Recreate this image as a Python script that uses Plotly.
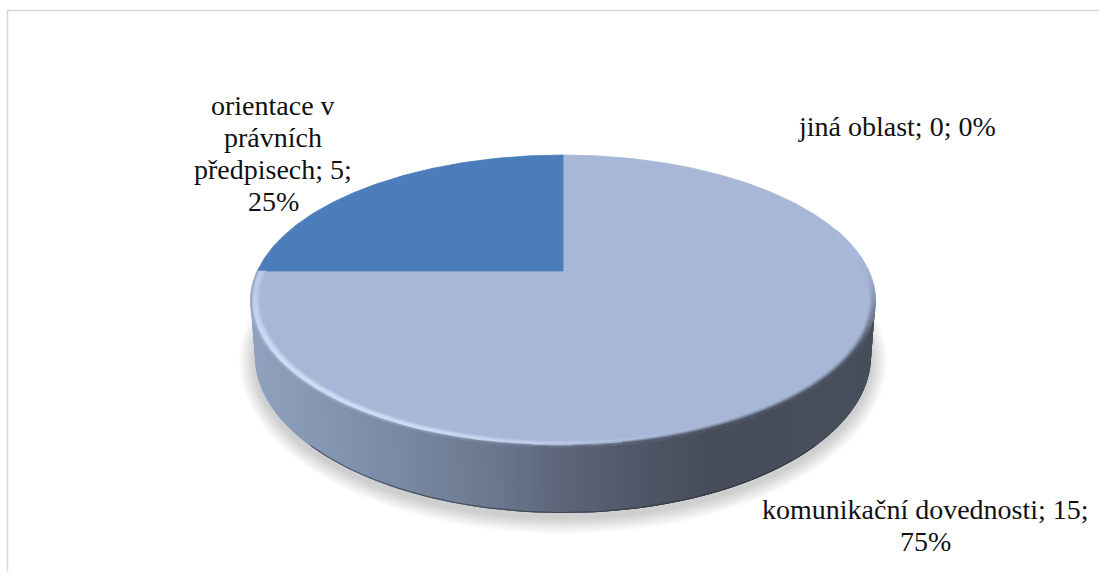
import numpy as np
import plotly.graph_objects as go

# Survey answers, in clockwise order from twelve o'clock
categories = ["komunikační dovednosti", "orientace v právních předpisech", "jiná oblast"]
values = [15, 5, 0]
slice_colors = ["#A8B7D7", "#4A7DBA", "#9BBB59"]

WIDTH, HEIGHT = 1099, 572
FONT = "Liberation Serif"
LINE_STEP = 32

# Perspective projection of the unit disc onto the page
CX, APEX_Y = 563.0, 271.0
SCALE_X, SCALE_Y, TILT = 305.6, 139.8, 0.2055
# Ellipses of the top rim and of the bottom edge, as seen on the page
TOP_CY, TOP_RX, TOP_RY = 301.0, 312.3, 146.0
BASE_CY, BASE_RX, BASE_RY = 356.0, 308.0, 157.0


def disc(theta_deg, r=1.0):
    t = np.radians(theta_deg)
    u, v = r * np.sin(t), r * np.cos(t)
    w = 1 + TILT * v
    return CX + SCALE_X * u / w, APEX_Y - SCALE_Y * v / w


def rim(phi_deg, cy, rx, ry):
    p = np.radians(phi_deg)
    return CX + rx * np.sin(p), cy - ry * np.cos(p)


def rgb(hex_color):
    return np.array([int(hex_color[i:i + 2], 16) for i in (1, 3, 5)], dtype=float)


def smooth(a, b, x):
    s = np.clip((x - a) / (b - a), 0, 1)
    return s * s * (3 - 2 * s)


SIDE_X = [255, 330, 420, 500, 563, 640, 710, 875]
SIDE_C = [rgb(c) for c in ("#8FA1BE", "#8495B0", "#76859F", "#6A768D", "#5C6578", "#4F5667", "#474D5B", "#474E5C")]


def side_color(x):
    return np.array([np.interp(x, SIDE_X, [c[i] for c in SIDE_C]) for i in range(3)])


def css(c, step=1):
    q = np.clip(np.round(np.asarray(c) / step) * step, 0, 255).astype(int)
    return f"rgb({q[0]},{q[1]},{q[2]})"


class PolygonGroups:
    """Collects small polygons by colour so each colour needs a single trace."""

    def __init__(self, width=0.5):
        self.groups = {}
        self.width = width

    def add(self, xs, ys, color):
        gx, gy = self.groups.setdefault(color, ([], []))
        gx.extend(list(xs) + [xs[0], None])
        gy.extend(list(ys) + [ys[0], None])

    def traces(self):
        return [
            go.Scatter(x=gx, y=gy, mode="lines", fill="toself", fillcolor=c,
                       line=dict(color=c, width=self.width), hoverinfo="skip", showlegend=False)
            for c, (gx, gy) in self.groups.items()
        ]


fig = go.Figure()

# Soft shadow under the disc, built up from expanding translucent ellipses
phi = np.linspace(0, 360, 241)
for grow in np.arange(16, 0, -1.0):
    sx, sy = rim(phi, BASE_CY + 5, BASE_RX + grow, BASE_RY + grow)
    fig.add_trace(go.Scatter(x=sx, y=sy, mode="lines", fill="toself", line=dict(width=0),
                             fillcolor="rgba(90,90,90,0.015)", hoverinfo="skip", showlegend=False))

# Outer wall: strips painted from left to right, each running under the next one
edges = np.linspace(270, 90, 181)
for a, b in zip(edges[:-1], edges[1:]):
    arc = np.linspace(a, max(b - 3, 90), 6)
    tx, ty = rim(arc, TOP_CY, TOP_RX, TOP_RY)
    bx, by = rim(arc[::-1], BASE_CY, BASE_RX, BASE_RY)
    color = css(side_color(rim((a + b) / 2, TOP_CY, TOP_RX, TOP_RY)[0]))
    fig.add_trace(go.Scatter(x=[*tx, *bx, tx[0]], y=[*ty, *by, ty[0]], mode="lines", fill="toself",
                             fillcolor=color, line=dict(width=0), hoverinfo="skip", showlegend=False))

# Darker line where the wall meets the ground
ex, ey = rim(np.linspace(125, 235, 111), BASE_CY - 0.5, BASE_RX, BASE_RY)
fig.add_trace(go.Scatter(x=ex, y=ey, mode="lines", line=dict(color="rgba(40,44,54,0.55)", width=1.2),
                         hoverinfo="skip", showlegend=False))

# Top face: one wedge per category, sized from its value
total = sum(values)
start = 0.0
for name, value, color in zip(categories, values, slice_colors):
    sweep = 360.0 * value / total
    if value > 0:
        theta = np.linspace(start, start + sweep, max(3, int(sweep * 2)))
        ax, ay = disc(theta)
        fig.add_trace(go.Scatter(x=[CX, *ax, CX], y=[APEX_Y, *ay, APEX_Y], mode="lines", fill="toself",
                                 fillcolor=color, line=dict(color=color, width=0.8),
                                 name=name, hoverinfo="skip", showlegend=False))
    start += sweep

# Rounded edge of the large slice: light on the lower left, falling into shade on the right
FACE = rgb(slice_colors[0])
GLOW = rgb("#D2E0F8")
BAND = 0.03
bevel = PolygonGroups(width=0.6)
large_end = 360.0 * values[0] / total
steps = np.linspace(0, 1, 9)
sweep_edges = np.arange(72, large_end + 0.01, 1.5)
for t0, t1 in zip(steps[:-1], steps[1:]):
    tm = (t0 + t1) / 2
    r0, r1 = 1 - BAND * (1 - t0), 1 - BAND * (1 - t1) + 0.0012
    for a, b in zip(sweep_edges[:-1], sweep_edges[1:]):
        m = (a + b) / 2
        xa, ya = disc(a, r0)
        xb, yb = disc(b, r0)
        xc, yc = disc(b, r1)
        xd, yd = disc(a, r1)
        glow = smooth(150, 205, m) * np.sin(np.pi * tm ** 1.2) ** 1.3 * (1 - 0.45 * smooth(235, 270, m))
        c = FACE + (GLOW - FACE) * glow * 0.9
        right = smooth(85, 125, m)
        left = smooth(150, 215, m)
        shade = smooth(0.25 + 0.6 * left, 1.0, tm) * right
        c = c + (side_color(disc(m)[0]) - c) * shade
        bevel.add([xa, xb, xc, xd], [ya, yb, yc, yd], css(c, 2))
for tr in bevel.traces():
    fig.add_trace(tr)


# Data labels: category; value; share, each line placed on its own baseline step
def label(i, lines, x, y):
    share = round(100 * values[i] / total)
    for n, line in enumerate(lines):
        fig.add_annotation(x=x, y=y + n * LINE_STEP, xref="x", yref="y",
                           text=line.format(v=values[i], p=share), showarrow=False,
                           font=dict(family=FONT, size=28, color="#111111"))


label(1, ["orientace v", "právních", "předpisech; {v};", "{p}%"], 273, 105)
label(2, ["jiná oblast; {v}; {p}%"], 897, 126)
label(0, ["komunikační dovednosti; {v};", "{p}%"], 925, 509)

# Frame of the chart area, open towards the right and the bottom
fig.add_shape(type="path", path=f"M 7.5 {HEIGHT} L 7.5 10.5 L {WIDTH} 10.5", xref="x", yref="y",
              line=dict(color="#D9D9D9", width=1.5))

fig.update_layout(
    width=WIDTH, height=HEIGHT, margin=dict(l=0, r=0, t=0, b=0),
    paper_bgcolor="white", plot_bgcolor="white", showlegend=False,
    xaxis=dict(range=[0, WIDTH], visible=False, fixedrange=True),
    yaxis=dict(range=[HEIGHT, 0], visible=False, fixedrange=True),
)
fig.write_html("out.html", config=dict(displayModeBar=False))
